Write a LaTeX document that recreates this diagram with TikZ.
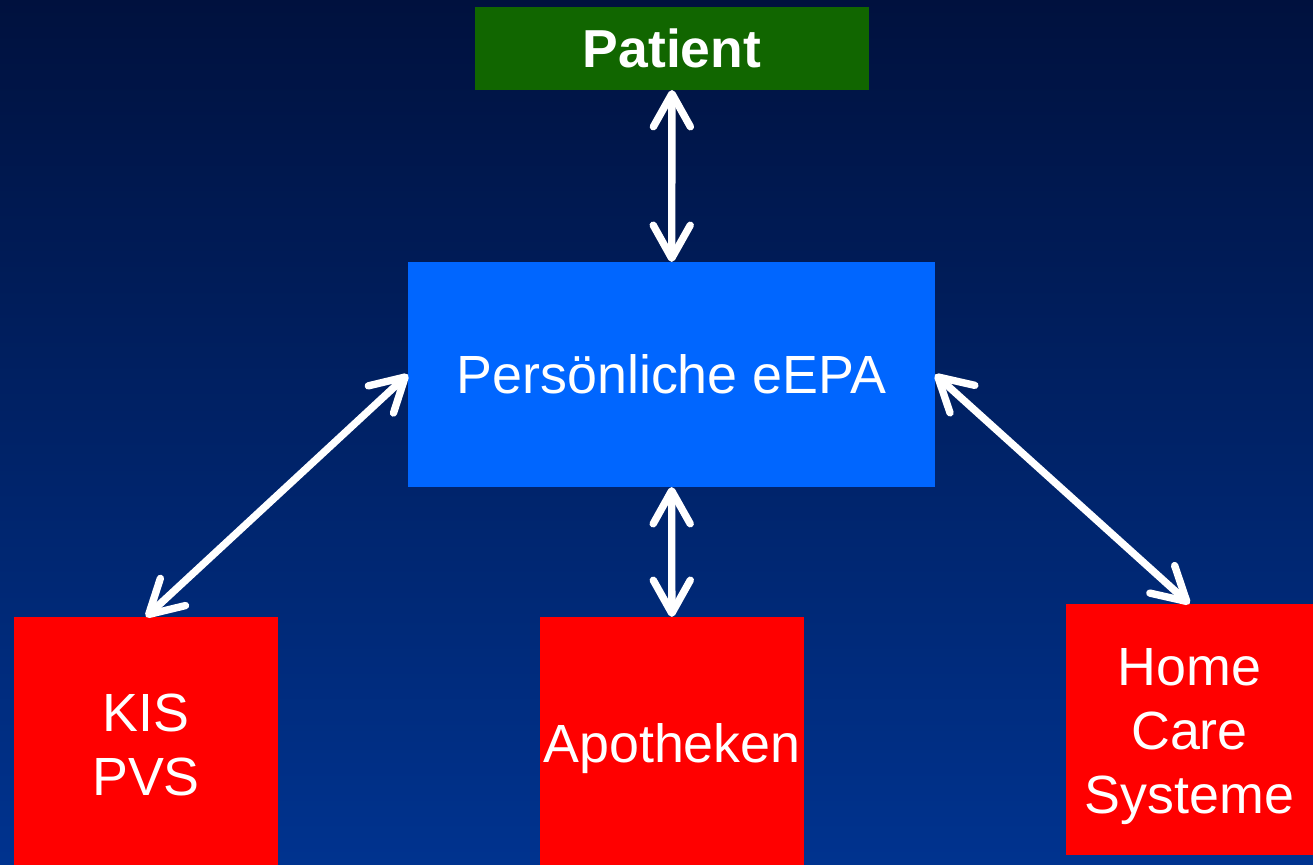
\documentclass[tikz,border=0pt]{standalone}
\usepackage{fontspec}
\setmainfont{Liberation Sans}
\usetikzlibrary{arrows.meta, positioning}
\definecolor{bgtop}{HTML}{00113E}
\definecolor{bgbottom}{HTML}{00338F}
\definecolor{patientfill}{HTML}{116600}
\definecolor{recordfill}{HTML}{0066FF}
\definecolor{systemfill}{HTML}{FF0000}

\begin{document}
\begin{tikzpicture}[
  x=0.01cm, y=-0.01cm,
  every node/.style={font=\fontsize{15.3}{18.2}\selectfont, text=white},
  align=center,
]

\tikzset{
  box/.style={rectangle, inner sep=1pt, outer sep=0pt},
  patientbox/.style={box, fill=patientfill, font=\fontsize{15.2}{18.2}\selectfont\bfseries,
    minimum width=3.94cm, minimum height=0.83cm},
  recordbox/.style={box, fill=recordfill,
    minimum width=5.27cm, minimum height=2.25cm},
  systembox/.style={box, fill=systemfill,
    minimum width=2.64cm, minimum height=2.56cm},
  flowline/.style={{Straight Barb[length=3.3mm, width=3.7mm, round]}-{Straight Barb[length=3.3mm, width=3.7mm, round]},
    white, line width=2.1pt},
}

% ---- background ----
\useasboundingbox (0,0) rectangle (1313,864);
\clip (0,0) rectangle (1313,864);
\shade[top color=bgtop, bottom color=bgbottom] (0,0) rectangle (1313,864);

% ---- boxes ----
\node[patientbox] (patient) at (672,48.5) {Patient};
\node[recordbox] (record) at (671.5,374.5) {Persönliche eEPA};
\node[systembox] (kis) at (146,745) {KIS\\PVS};
\node[systembox] (apotheken) at (672,745) {\raisebox{-0.04cm}[\height][\depth]{Apotheken}};
\node[systembox, minimum width=2.47cm, minimum height=2.51cm] (homecare) at (1189.5,729.5)
  {\raisebox{-0.07cm}[\height][\depth]{\begin{tabular}{@{}c@{}}Home\\Care\\Systeme\end{tabular}}};

% ---- links ----
\draw[flowline] (patient) -- (record);
\draw[flowline] (record) -- (apotheken);
\draw[flowline] (kis.north) -- (record.west);
\draw[flowline] (record.east) -- (homecare.north);

\end{tikzpicture}
\end{document}
